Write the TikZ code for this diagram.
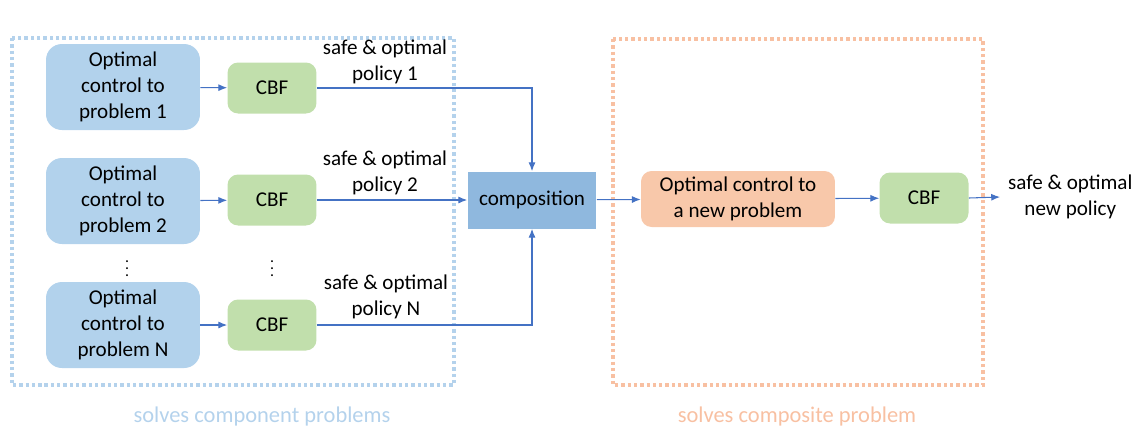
\documentclass[tikz,border=0pt]{standalone}
\usepackage{fontspec}
\setmainfont{Carlito}
\usetikzlibrary{arrows.meta,positioning}
\definecolor{probblue}{RGB}{178,210,236}
\definecolor{compblue}{RGB}{143,184,222}
\definecolor{cbfgreen}{RGB}{193,223,172}
\definecolor{neworange}{RGB}{248,200,170}
\definecolor{linkblue}{RGB}{68,114,196}
\definecolor{zoneblue}{RGB}{180,210,236}
\definecolor{zoneorange}{RGB}{248,192,162}

\begin{document}
\begin{tikzpicture}[x=0.02cm,y=-0.02cm,prob/.style={fill=probblue,rounded corners=9pt,align=center,inner sep=2pt,font=\fontsize{12}{14.6}\selectfont,minimum width=3.08cm,minimum height=1.72cm},cbf/.style={fill=cbfgreen,rounded corners=6pt,font=\fontsize{12}{14.6}\selectfont,minimum width=1.78cm,minimum height=1.02cm},lbl/.style={align=center,font=\fontsize{12}{14.6}\selectfont},arr/.style={-{Latex[length=5pt,width=4pt]},line width=.6pt,draw=linkblue},zone/.style={line width=1.9pt,dash pattern=on 1.9pt off 1.7pt}]
\useasboundingbox (0,0) rectangle (1141,441);

% dotted regions
\draw[zone,draw=zoneblue] (12,38) rectangle (454,385);
\draw[zone,draw=zoneorange] (613,39) rectangle (983,385);
\node[lbl,text=zoneblue,font=\fontsize{12.8}{15}\selectfont] (zonea) at (262,416) {solves component problems};
\node[lbl,text=zoneorange,font=\fontsize{12.8}{15}\selectfont] (zoneb) at (797,416) {solves composite problem};

\node[prob] (pa) at (123,87) {Optimal\\control to\\problem 1};
\node[prob] (pb) at (123,201) {Optimal\\control to\\problem 2};
\node[prob] (pn) at (123,325) {Optimal\\control to\\problem N};
\node[cbf] (cbfa) at (272,88) {CBF};
\node[cbf] (cbfb) at (272,200) {CBF};
\node[cbf] (cbfn) at (272,325) {CBF};
\node[inner sep=0pt,font=\small] (dota) at (127,263) {$\vdots$};
\node[inner sep=0pt,font=\small] (dotb) at (272,263) {$\vdots$};

\node[fill=compblue,font=\fontsize{12}{14.6}\selectfont,minimum width=2.58cm,minimum height=1.14cm] (comp) at (532,200) {composition};
\node[prob,fill=neworange,rounded corners=6pt,minimum width=3.88cm,minimum height=1.12cm] (newp) at (738,199) {Optimal control to\\a new problem};
\node[cbf] (cbfc) at (924,198) {CBF};
\coordinate (out) at (1000,197);

\draw[arr] (pa) -- (cbfa);\draw[arr] (pb) -- (cbfb);\draw[arr] (pn) -- (cbfn);
\draw[arr] (cbfa.east) -| (comp.north);
\draw[arr] (cbfb) -- (comp);
\draw[arr] (cbfn.east) -| (comp.south);
\draw[arr] (comp) -- (newp);\draw[arr] (newp) -- (cbfc);\draw[arr] (cbfc.east) -- (out);

\node[lbl] (pola) at (385,62) {safe \& optimal\\policy 1};
\node[lbl] (polb) at (385,173) {safe \& optimal\\policy 2};
\node[lbl] (poln) at (386,297) {safe \& optimal\\policy N};
\node[lbl,anchor=west] (polc) at (1002,197) {safe \& optimal\\new policy};
\end{tikzpicture}
\end{document}
